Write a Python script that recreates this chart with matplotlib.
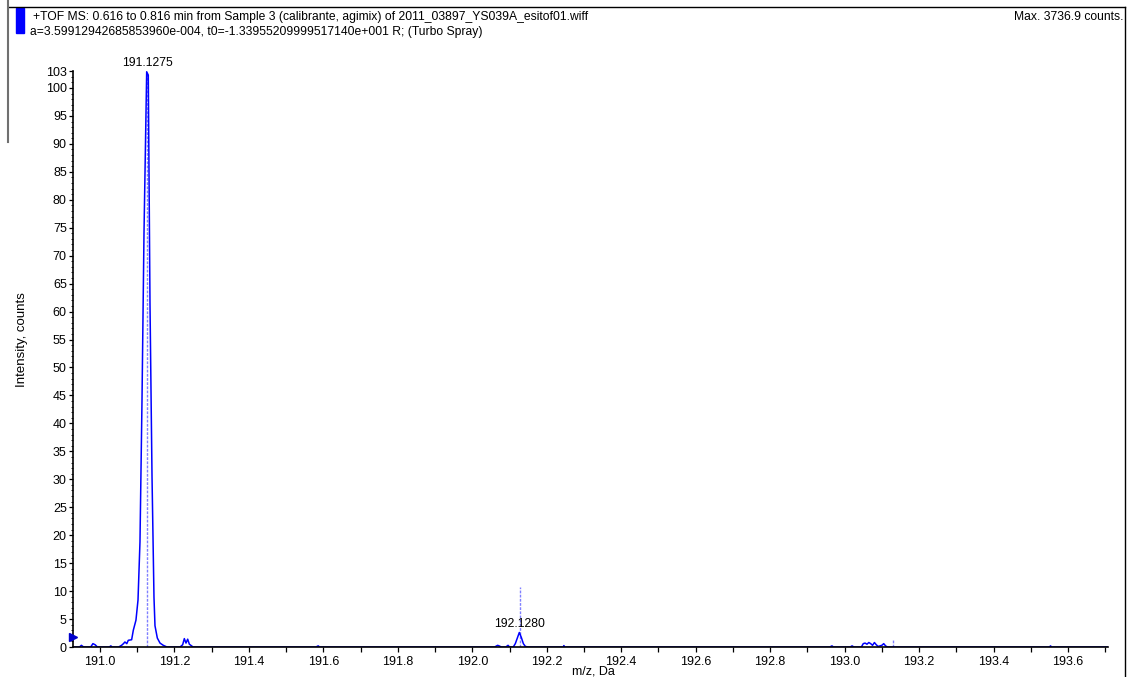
import matplotlib
matplotlib.use("Agg")
import matplotlib.pyplot as plt
from matplotlib.lines import Line2D
from matplotlib.patches import Rectangle
import numpy as np

plt.rcParams['font.family'] = ['Liberation Sans', 'DejaVu Sans']

# ---- data (relative intensity, % of max) ----
mz = [190.930, 190.945, 190.950, 190.956, 190.975, 190.981, 190.987, 190.993,
      191.025, 191.029, 191.033, 191.050, 191.058, 191.063, 191.067, 191.072,
      191.076, 191.085, 191.0895, 191.0966, 191.1021, 191.1074, 191.1128,
      191.1182, 191.1254, 191.1297, 191.1343, 191.1397, 191.1450, 191.1477,
      191.1540, 191.1612, 191.1700, 191.180, 191.215, 191.2220, 191.2265,
      191.2310, 191.2355, 191.2400, 191.2500, 191.580, 191.586, 191.590,
      192.060, 192.068, 192.072, 192.078, 192.090, 192.096, 192.100, 192.110,
      192.1155, 192.1209, 192.1263, 192.1317, 192.1371, 192.1425, 192.150,
      192.244, 192.246, 192.248, 192.960, 192.966, 192.970, 193.015, 193.020,
      193.025, 193.045, 193.050, 193.055, 193.060, 193.065, 193.070, 193.075,
      193.080, 193.085, 193.090, 193.100, 193.105, 193.110, 193.115, 193.550,
      193.553, 193.556, 193.710]
intensity = [0, 0, 0.3, 0, 0, 0.6, 0.4, 0,
             0, 0.2, 0, 0, 0.3, 0.6, 0.9, 0.6,
             1.2, 1.3, 3.0, 4.8, 8.4, 18.8, 44.0,
             74.1, 102.9, 102.3, 61.4, 30.6, 8.9, 3.8,
             1.6, 0.7, 0.3, 0, 0, 0.4, 1.5,
             0.7, 1.4, 0.5, 0, 0, 0.2, 0,
             0, 0.3, 0.2, 0, 0, 0.3, 0, 0,
             0.6, 1.6, 2.6, 1.7, 0.6, 0.1, 0,
             0, 0.25, 0, 0, 0.2, 0, 0, 0.2,
             0, 0, 0.6, 0.7, 0.5, 0.8, 0.6, 0.3,
             0.8, 0.4, 0.1, 0.3, 0.6, 0.2, 0, 0,
             0.2, 0, 0]

centroid_mz = [191.1275, 192.1280, 193.130]
centroid_h = [102.5, 10.8, 1.4]

peak_labels = ["191.1275", "192.1280"]
peak_label_mz = [191.1275, 192.1263]
peak_label_y = [103.0, 2.6]

xticks = [191.0, 191.2, 191.4, 191.6, 191.8, 192.0, 192.2, 192.4, 192.6,
          192.8, 193.0, 193.2, 193.4, 193.6]
yticks = [0, 5, 10, 15, 20, 25, 30, 35, 40, 45, 50, 55, 60, 65, 70, 75, 80,
          85, 90, 95, 100, 103]

title1 = "+TOF MS: 0.616 to 0.816 min from Sample 3 (calibrante, agimix) of 2011_03897_YS039A_esitof01.wiff"
title2 = "a=3.59912942685853960e-004, t0=-1.33955209999517140e+001 R; (Turbo Spray)"
max_text = "Max. 3736.9 counts."

W, H = 1127, 677
fig = plt.figure(figsize=(W / 100, H / 100), dpi=100)
fig.patch.set_facecolor('white')

x0, x1 = 73, 1108
y_bot, y_top = 647, 71.2
ax = fig.add_axes([x0 / W, 1 - y_bot / H, (x1 - x0) / W, (y_bot - y_top) / H])
ax.set_xlim(190.9275, 193.7074)
ax.set_ylim(0, 103)

for s in ['top', 'right']:
    ax.spines[s].set_visible(False)
for s in ['left', 'bottom']:
    ax.spines[s].set_linewidth(1.2)
    ax.spines[s].set_zorder(4)

# centroid sticks
ax.vlines(centroid_mz, 0, centroid_h, colors='#8080ff', linestyles=(0, (2, 1)),
          linewidth=1.0, zorder=2)
# profile
ax.plot(mz, intensity, color='#0000ff', linewidth=1.1, zorder=3)

for lab, xm, ym in zip(peak_labels, peak_label_mz, peak_label_y):
    ax.annotate(lab, (xm, ym), xytext=(0, 1.5), textcoords='offset points',
                ha='center', va='bottom', fontsize=8.8)

# threshold marker
ax.plot([ax.get_xlim()[0]], [1.85], marker='>', color='#0000cc',
        markersize=6, clip_on=False, zorder=5)

ax.set_xticks(xticks)
ax.set_xticklabels([f"{v:.1f}" for v in xticks])
ax.set_xticks(np.arange(191.1, 193.71, 0.2), minor=True)
ax.set_yticks(yticks)
ax.set_yticklabels([str(v) for v in yticks])
ax.set_yticks([v for v in range(0, 103) if v % 5 != 0], minor=True)
ax.tick_params(axis='x', which='both', direction='out', length=3.6, width=0.9,
               labelsize=9, pad=3)
ax.tick_params(axis='y', which='major', direction='out', length=3, width=0.9,
               labelsize=9, pad=1.5)
ax.tick_params(axis='y', which='minor', direction='out', length=1.6, width=0.6)

fig.text(593 / W, 1 - 672 / H, "m/z, Da", ha='center', va='center', fontsize=9)
fig.text(22 / W, 1 - 340 / H, "Intensity, counts", ha='center', va='center',
         rotation=90, fontsize=9.5)

# header
fig.text(33 / W, 1 - 17 / H, title1, ha='left', va='center', fontsize=8.7)
fig.text(30 / W, 1 - 32 / H, title2, ha='left', va='center', fontsize=8.7)
fig.text(1123 / W, 1 - 17 / H, max_text, ha='right', va='center', fontsize=8.7)

fig.add_artist(Rectangle((16 / W, 1 - 33 / H), 8 / W, 25 / H,
                         transform=fig.transFigure, color='#0000ff'))
fig.add_artist(Line2D([8 / W, 1125 / W], [1 - 7 / H, 1 - 7 / H],
                      transform=fig.transFigure, color='black', linewidth=1))
fig.add_artist(Line2D([1125 / W, 1125 / W], [1 - 7 / H, 0],
                      transform=fig.transFigure, color='black', linewidth=1))
fig.add_artist(Line2D([8 / W, 8 / W], [1 - 0 / H, 1 - 142 / H],
                      transform=fig.transFigure, color='#707070', linewidth=1.5))

fig.savefig("out.png", dpi=100, facecolor='white')
